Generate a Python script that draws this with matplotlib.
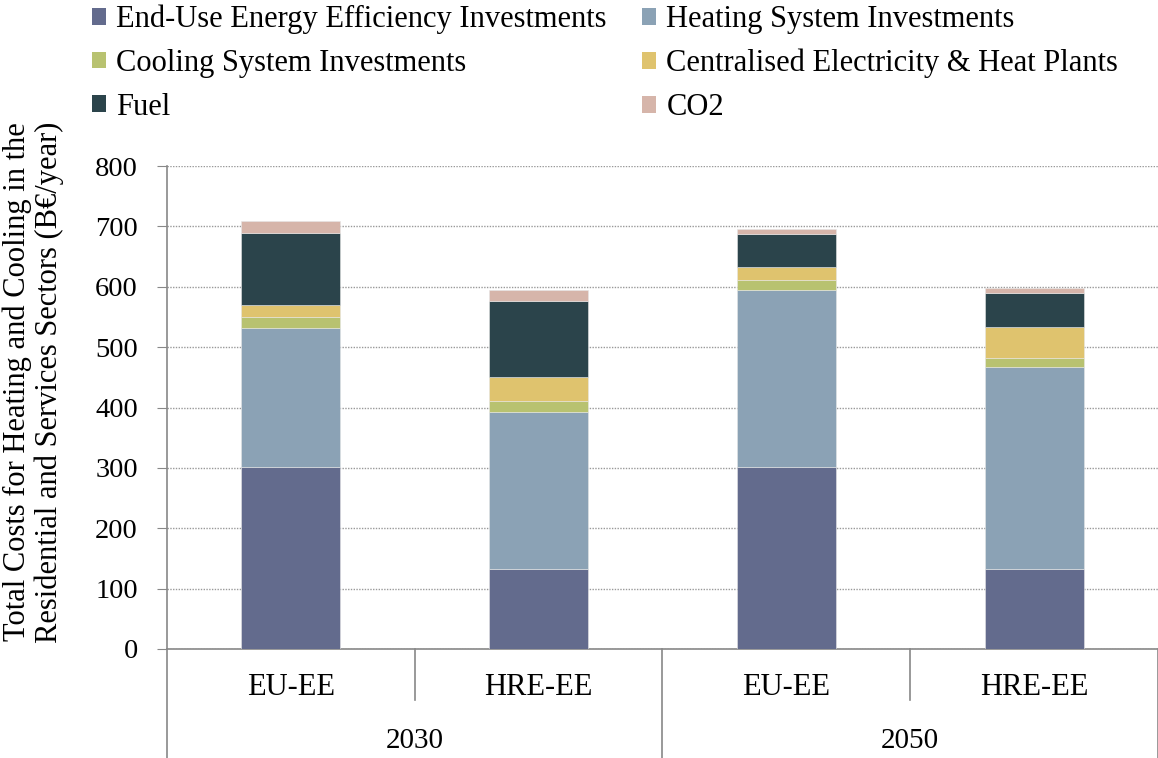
import numpy as np
import matplotlib
matplotlib.use('Agg')
import matplotlib.pyplot as plt
from matplotlib.patches import Patch

# data (B€/year)
scenarios = ['EU-EE', 'HRE-EE', 'EU-EE', 'HRE-EE']
years = ['2030', '2050']
end_use_ee = [302, 132, 302, 133]
heating = [229, 260, 293, 334]
cooling = [19, 19, 16, 15]
centralised = [19, 40, 21, 51]
fuel = [120, 125, 56, 57]
co2 = [20, 19, 7, 8]

series = [
    ('End-Use Energy Efficiency Investments', end_use_ee, '#636b8d'),
    ('Heating System Investments', heating, '#8ba2b5'),
    ('Cooling System Investments', cooling, '#b8c270'),
    ('Centralised Electricity & Heat Plants', centralised, '#dfc36e'),
    ('Fuel', fuel, '#2b444b'),
    ('CO2', co2, '#d6b5aa'),
]

plt.rcParams['font.family'] = ['Liberation Serif', 'DejaVu Serif']
fs = 22

fig = plt.figure(figsize=(11.58, 7.58), dpi=100)
ax = fig.add_axes([0.1442, 0.1438, 0.8558, 0.6372])

x = np.arange(len(scenarios))
bottom = np.zeros(len(scenarios))
handles = []
for name, vals, col in series:
    ax.bar(x, vals, width=0.4, bottom=bottom, color=col, edgecolor='#e6e6e6', linewidth=0.4, zorder=3)
    bottom += np.array(vals)
    handles.append(Patch(facecolor=col, label=name))

ax.set_xlim(-0.5, 3.5)
ax.set_ylim(0, 800)
ax.set_yticks(range(0, 801, 100))
ax.tick_params(axis='y', labelsize=20.5, length=7, color='#888888', direction='out', pad=14)
ax.tick_params(axis='x', length=0, labelbottom=False)
ax.grid(axis='y', linestyle=(0, (1, 1)), color='#999999', linewidth=1.0, zorder=0)
for s in ['top', 'right']:
    ax.spines[s].set_visible(False)
ax.spines['left'].set_color('#888888')
ax.spines['bottom'].set_color('#888888')
ax.spines['left'].set_linewidth(1.2)
ax.spines['bottom'].set_linewidth(1.2)

ax.set_ylabel('Total Costs for Heating and Cooling in the\nResidential and Services Sectors (B\u20ac/year)',
              fontsize=fs, linespacing=1.12)
ax.yaxis.set_label_coords(-0.104, 0.553)

# two-level category axis
trans = ax.get_xaxis_transform()
for i, s in enumerate(scenarios):
    ax.text(i, -0.079, s, transform=trans, ha='center', va='center', fontsize=fs)
for j, yr in enumerate(years):
    ax.text(2 * j + 0.5, -0.19, yr, transform=trans, ha='center', va='center', fontsize=21)
for k, xs in enumerate(np.arange(-0.5, 3.6, 1.0)):
    low = -0.226 if k % 2 == 0 else -0.106
    ax.plot([xs, xs], [0, low], transform=trans, color='#888888', lw=1.2, clip_on=False)

order = [0, 2, 4, 1, 3, 5]
fig.legend([handles[i] for i in order], [handles[i].get_label() for i in order],
           ncol=2, loc='upper left', bbox_to_anchor=(0.056, 1.03), frameon=False,
           prop={'family': ['Liberation Serif'], 'size': fs},
           handlelength=0.46, handleheight=0.46, handletextpad=0.33,
           columnspacing=1.15, labelspacing=0.48)

fig.savefig('out.png', dpi=100)
plt.close(fig)
